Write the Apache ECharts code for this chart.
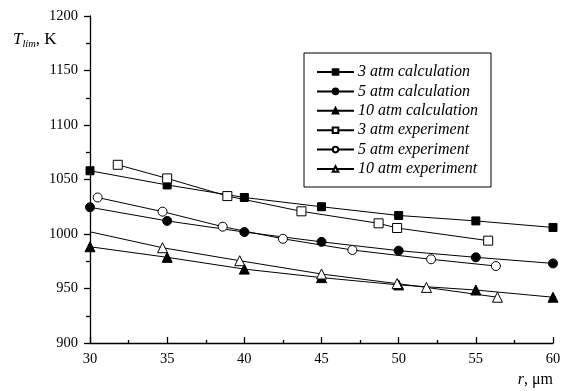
<!DOCTYPE html>
<html>
<head>
<meta charset="utf-8">
<script src="https://cdn.jsdelivr.net/npm/echarts@6/dist/echarts.min.js"></script>
<style>
html,body{margin:0;padding:0;background:#fff;}
#chart{width:567px;height:391px;}
</style>
</head>
<body>
<div id="chart"></div>
<script>
// Data
var calcX = [30, 35, 40, 45, 50, 55, 60];
var calc3 = [1058, 1045, 1033.5, 1025, 1017, 1012, 1006];
var calc5 = [1024.5, 1012, 1001.8, 992.8, 984.7, 978.6, 973];
var calc10 = [988.3, 978.6, 967.8, 960, 953.3, 948.6, 942];
var exp3X = [31.8, 35, 38.9, 43.7, 48.7, 49.9, 55.8];
var exp3 = [1063.5, 1051, 1034.8, 1020.8, 1009.8, 1005.5, 993.9];
var exp5X = [30.5, 34.7, 38.6, 42.5, 47, 52.1, 56.3];
var exp5 = [1033.5, 1020.5, 1006.7, 995.6, 985.3, 976.8, 970.6];
var exp10X = [30, 34.7, 39.7, 45, 49.9, 51.8, 56.4];
var exp10 = [1002, 987.4, 975.5, 963.3, 954.5, 951, 942];
var seriesNames = ['3 atm calculation', '5 atm calculation', '10 atm calculation',
                   '3 atm experiment', '5 atm experiment', '10 atm experiment'];

function pairs(xs, ys) { return xs.map(function (x, i) { return [x, ys[i]]; }); }

var FONT = '"Liberation Serif", "Times New Roman", serif';
var chart = echarts.init(document.getElementById('chart'), null, {renderer: 'canvas'});

function mk(name, data, symbol, filled, size) {
  return {
    type: 'line', name: name, data: data, symbol: symbol, symbolSize: size,
    showSymbol: true, clip: true, animation: false,
    lineStyle: {color: '#000', width: 1},
    itemStyle: {color: filled ? '#000' : '#fff', borderColor: '#000', borderWidth: 1},
    emphasis: {disabled: true}
  };
}

var e10 = pairs(exp10X, exp10);
e10[0] = {value: e10[0], symbol: 'none'};

var option = {
  backgroundColor: '#fff',
  animation: false,
  grid: {left: 90, right: 14, top: 16, bottom: 48, containLabel: false},
  legend: {
    orient: 'vertical', left: 304, top: 53,
    padding: [11, 13, 10, 12],
    itemGap: 3.4, itemWidth: 37, itemHeight: 7,
    borderColor: '#000', borderWidth: 1, borderRadius: 0,
    backgroundColor: '#fff',
    textStyle: {fontFamily: FONT, fontStyle: 'italic', fontSize: 16, color: '#000', lineHeight: 16, padding: [0, 0, 0, -1]},
    data: seriesNames
  },
  xAxis: {
    type: 'value', min: 30, max: 60, interval: 5,
    axisLine: {lineStyle: {color: '#000', width: 1.3}},
    axisTick: {inside: true, length: 6, lineStyle: {color: '#000', width: 1.3}},
    minorTick: {show: true, splitNumber: 2, length: 3, lineStyle: {color: '#000', width: 1.3}},
    axisLabel: {fontFamily: FONT, fontSize: 14.5, color: '#000', margin: 9},
    splitLine: {show: false}
  },
  yAxis: {
    type: 'value', min: 900, max: 1200, interval: 50,
    axisLine: {show: true, lineStyle: {color: '#000', width: 1.3}},
    axisTick: {show: true, inside: false, length: 6, lineStyle: {color: '#000', width: 1.3}},
    minorTick: {show: true, splitNumber: 2, length: 4, lineStyle: {color: '#000', width: 1.3}},
    axisLabel: {fontFamily: FONT, fontSize: 14.5, color: '#000', margin: 12,
                formatter: function (v) { return String(v); }},
    splitLine: {show: false}
  },
  graphic: [
    {
      type: 'text', left: 13, top: 31,
      style: {
        text: '{t|T}{s|lim}{n|, K}',
        rich: {
          t: {fontFamily: FONT, fontStyle: 'italic', fontSize: 17, fill: '#000'},
          s: {fontFamily: FONT, fontStyle: 'italic', fontSize: 10.5, fill: '#000', padding: [9, 0, 0, 0]},
          n: {fontFamily: FONT, fontSize: 17, fill: '#000'}
        }
      }
    },
    {
      type: 'text', right: 14, top: 372,
      style: {
        text: '{r|r}{n|, μm}',
        rich: {
          r: {fontFamily: FONT, fontStyle: 'italic', fontSize: 16, fill: '#000'},
          n: {fontFamily: FONT, fontSize: 16, fill: '#000'}
        }
      }
    }
  ],
  series: [
    mk(seriesNames[0], pairs(calcX, calc3), 'rect', true, 8),
    mk(seriesNames[1], pairs(calcX, calc5), 'circle', true, 9),
    mk(seriesNames[2], pairs(calcX, calc10), 'triangle', true, 10),
    mk(seriesNames[3], pairs(exp3X, exp3), 'rect', false, 9),
    mk(seriesNames[4], pairs(exp5X, exp5), 'circle', false, 9),
    mk(seriesNames[5], e10, 'triangle', false, 10)
  ]
};
chart.setOption(option);
</script>
</body>
</html>
